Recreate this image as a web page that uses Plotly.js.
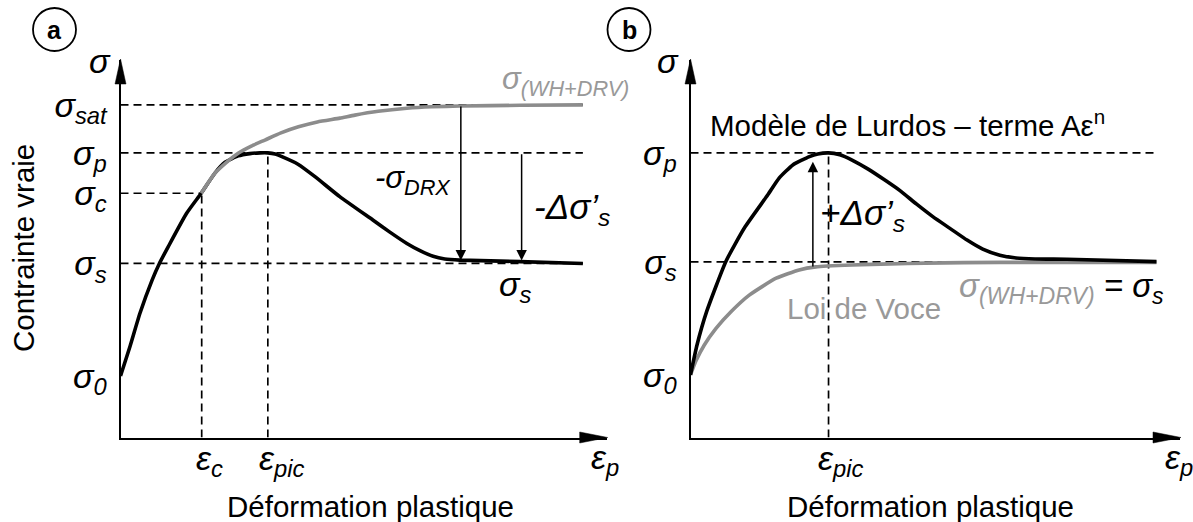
<!DOCTYPE html>
<html><head><meta charset="utf-8">
<script src="https://cdn.plot.ly/plotly-3.0.1.min.js"></script>
<style>html,body{margin:0;padding:0;background:#fff}#chart{width:1193px;height:522px}</style>
</head><body><div id="chart"></div>
<script>
// ---------- Panel a data (arbitrary units, axes 0..100) ----------
const levelNamesA = ['σ<sub>0</sub>', 'σ<sub>s</sub>', 'σ<sub>c</sub>', 'σ<sub>p</sub>', 'σ<sub>sat</sub>'];
const levelValsA  = [16.3, 46.1, 64.7, 75.4, 88.1];
const strainNamesA = ['ε<sub>c</sub>', 'ε<sub>pic</sub>'];
const strainValsA  = [16.7, 30.3];
const blackAx = [0, 1.95, 4.0, 6.5, 8.0, 9.8, 13.6, 16.6, 19.4, 21.5, 24.2, 26.6, 28.7, 30.3, 31.8, 33.2, 36.5, 40.0, 45.1, 51.9, 55.4, 58.9, 61.6, 64.3, 66.7, 69.8, 82.2, 95.1];
const blackAy = [16.3, 24.1, 32.9, 41.7, 46.1, 50.5, 59.4, 64.7, 70.0, 72.9, 74.6, 75.2, 75.4, 75.4, 75.1, 74.4, 72.4, 69.1, 63.8, 57.6, 54.4, 51.4, 49.5, 48.0, 47.3, 47.0, 46.6, 46.1];
const greyAx = [16.6, 19.4, 21.8, 24.2, 26.9, 29.7, 33.0, 36.6, 40.5, 45.1, 48.2, 53.0, 58.9, 64.0, 69.8, 82.2, 95.1];
const greyAy = [64.7, 70.0, 72.9, 75.3, 77.2, 78.8, 80.7, 82.3, 83.6, 84.6, 85.4, 86.4, 87.2, 87.6, 87.8, 88.0, 88.1];

// ---------- Panel b data ----------
const levelNamesB = ['σ<sub>0</sub>', 'σ<sub>s</sub>', 'σ<sub>p</sub>'];
const levelValsB  = [16.6, 46.5, 75.4];
const strainNamesB = ['ε<sub>pic</sub>'];
const strainValsB  = [28.2];
const blackBx = [0, 1.33, 3.31, 7.25, 11.0, 15.8, 18.1, 20.9, 24.3, 26.0, 28.2, 30.5, 33.0, 36.3, 39.7, 42.8, 46.2, 49.5, 53.0, 56.5, 59.7, 63.2, 66.2, 70.4, 76.9, 95.2];
const blackBy = [16.6, 24.5, 33.4, 46.7, 55.5, 64.3, 68.7, 72.2, 74.4, 75.1, 75.4, 74.9, 73.5, 71.1, 68.2, 65.4, 61.8, 58.5, 55.4, 52.3, 49.9, 48.3, 47.6, 47.3, 47.2, 46.6];
const greyBx = [0, 1.12, 2.82, 5.21, 8.27, 12.0, 17.5, 22.2, 25.6, 33.0, 40.8, 47.9, 63.2, 95.2];
const greyBy = [16.6, 20.3, 24.5, 28.9, 33.3, 37.7, 42.2, 44.4, 45.2, 45.7, 46.0, 46.2, 46.4, 46.4];

const W = 1193, H = 522;
const F = 'Liberation Sans, Arial, sans-serif';
const GREY = '#8c8c8c', GREYTXT = '#999999';
const domXA = [120.5 / W, 606.7 / W], domXB = [690.5 / W, 1180 / W], domY = [1 - 437.5 / H, 1 - 60 / H];

function dashed(xs, ys, xa, ya) {
  return {x: xs, y: ys, xaxis: xa, yaxis: ya, mode: 'lines', hoverinfo: 'skip',
          line: {color: '#000', width: 1.7, dash: '8px,5px'}};
}
function curve(xs, ys, xa, ya, color) {
  return {x: xs, y: ys, xaxis: xa, yaxis: ya, mode: 'lines', hoverinfo: 'skip',
          line: {color: color, width: 3.6, shape: 'spline', smoothing: 0.5}};
}
const endA = blackAx[blackAx.length - 1], endB = blackBx[blackBx.length - 1];
const [s0A, ssA, scA, spA, ssatA] = levelValsA;
const [ecA, epicA] = strainValsA;
const [s0B, ssB, spB] = levelValsB;
const [epicB] = strainValsB;

const data = [
  dashed([0, endA], [ssatA, ssatA], 'x', 'y'),
  dashed([0, endA], [spA, spA], 'x', 'y'),
  dashed([0, ecA], [scA, scA], 'x', 'y'),
  dashed([0, endA], [ssA, ssA], 'x', 'y'),
  dashed([ecA, ecA], [0, scA], 'x', 'y'),
  dashed([epicA, epicA], [0, spA], 'x', 'y'),
  curve(blackAx, blackAy, 'x', 'y', '#000'),
  curve(greyAx, greyAy, 'x', 'y', GREY),
  dashed([0, endB], [spB, spB], 'x2', 'y2'),
  dashed([0, endB], [ssB, ssB], 'x2', 'y2'),
  dashed([epicB, epicB], [0, spB], 'x2', 'y2'),
  curve(greyBx, greyBy, 'x2', 'y2', GREY),
  curve(blackBx, blackBy, 'x2', 'y2', '#000')
];

const axBase = {range: [0, 100], showgrid: false, zeroline: false, showline: true, linecolor: '#000',
  linewidth: 2, ticks: '', fixedrange: true, automargin: false};
const yTickFont = {family: F, size: 34, style: 'italic', color: '#000'};

const it = (size, color) => ({family: F, size: size, style: 'italic', color: color || '#000'});
const up = (size, color) => ({family: F, size: size, color: color || '#000'});
function ann(o) {
  return Object.assign({showarrow: false, font: it(34)}, o);
}

const annotations = [
  // panel a
  ann({xref: 'x', yref: 'y', x: 0, y: 100, text: 'σ', xanchor: 'right', yanchor: 'middle', xshift: -8, yshift: -1}),
  ann({xref: 'x', yref: 'y', x: ecA, y: 0, text: strainNamesA[0], xanchor: 'left', yanchor: 'top', xshift: -8, yshift: 1}),
  ann({xref: 'x', yref: 'y', x: epicA, y: 0, text: strainNamesA[1], xanchor: 'left', yanchor: 'top', xshift: -11, yshift: 1}),
  ann({xref: 'x', yref: 'y', x: 100, y: 0, text: 'ε<sub>p</sub>', xanchor: 'left', yanchor: 'top', xshift: -18, yshift: 2}),
  ann({xref: 'x', yref: 'y', x: 52.0, y: 68.2, text: '-σ<sub>DRX</sub>', xanchor: 'left', yanchor: 'middle', font: it(31), yshift: 0}),
  ann({xref: 'x', yref: 'y', x: 84.6, y: 60.8, text: '-Δσ’<sub>s</sub>', xanchor: 'left', yanchor: 'middle', font: it(35), yshift: -1}),
  ann({xref: 'x', yref: 'y', x: 77.4, y: 40.9, text: 'σ<sub>s</sub>', xanchor: 'left', yanchor: 'middle', font: it(34), yshift: -3}),
  ann({xref: 'x', yref: 'y', x: 78.0, y: 93.6, text: 'σ<sub>(WH+DRV)</sub>', xanchor: 'left', yanchor: 'middle', font: it(31, GREYTXT), yshift: 3}),
  // arrows panel a
  {xref: 'x', yref: 'y', axref: 'x', ayref: 'y', x: 70.0, y: ssA, ax: 70.0, ay: ssatA, text: '', showarrow: true,
   arrowhead: 2, arrowsize: 1.4, arrowwidth: 1.5, arrowcolor: '#000', standoff: 3},
  {xref: 'x', yref: 'y', axref: 'x', ayref: 'y', x: 82.5, y: ssA, ax: 82.5, ay: spA, text: '', showarrow: true,
   arrowhead: 2, arrowsize: 1.4, arrowwidth: 1.5, arrowcolor: '#000', standoff: 3},
  // panel b
  ann({xref: 'x2', yref: 'y2', x: 0, y: 100, text: 'σ', xanchor: 'right', yanchor: 'middle', xshift: -10, yshift: -1}),
  ann({xref: 'x2', yref: 'y2', x: epicB, y: 0, text: strainNamesB[0], xanchor: 'left', yanchor: 'top', xshift: -13, yshift: 1}),
  ann({xref: 'x2', yref: 'y2', x: 100, y: 0, text: 'ε<sub>p</sub>', xanchor: 'left', yanchor: 'top', xshift: -17, yshift: 2}),
  ann({xref: 'x2', yref: 'y2', x: 3.6, y: 83.3, text: 'Modèle de Lurdos – terme Aε<sup>n</sup>', xanchor: 'left', yanchor: 'middle', font: up(29.5)}),
  ann({xref: 'x2', yref: 'y2', x: 26.0, y: 59.5, text: '+Δσ’<sub>s</sub>', xanchor: 'left', yanchor: 'middle', font: it(35), yshift: -2}),
  ann({xref: 'x2', yref: 'y2', x: 19.4, y: 34.3, text: 'Loi de Voce', xanchor: 'left', yanchor: 'middle', font: up(29.5, GREYTXT)}),
  ann({xref: 'x2', yref: 'y2', x: 54.4, y: 39.9,
       text: '<span style="color:' + GREYTXT + '">σ<sub>(WH+DRV)</sub></span> = σ<sub>s</sub>',
       xanchor: 'left', yanchor: 'middle', font: it(33), yshift: -1}),
  {xref: 'x2', yref: 'y2', axref: 'x2', ayref: 'y2', x: 25.0, y: spB, ax: 25.0, ay: 44.9, text: '', showarrow: true,
   arrowhead: 2, arrowsize: 1.4, arrowwidth: 1.5, arrowcolor: '#000', standoff: 9},
  // titles
  {xref: 'paper', yref: 'paper', x: 23 / W, y: 1 - 248 / H, text: 'Contrainte vraie', textangle: -90,
   showarrow: false, font: up(29.5), xanchor: 'center', yanchor: 'middle'},
  {xref: 'paper', yref: 'paper', x: 370 / W, y: 1 - 506 / H, text: 'Déformation plastique',
   showarrow: false, font: up(29.5), xanchor: 'center', yanchor: 'middle'},
  {xref: 'paper', yref: 'paper', x: 930 / W, y: 1 - 506 / H, text: 'Déformation plastique',
   showarrow: false, font: up(29.5), xanchor: 'center', yanchor: 'middle'},
  {xref: 'paper', yref: 'paper', x: 54.5 / W, y: 1 - 29.5 / H, text: '<b>a</b>',
   showarrow: false, font: up(25), xanchor: 'center', yanchor: 'middle'},
  {xref: 'paper', yref: 'paper', x: 629 / W, y: 1 - 29.5 / H, text: '<b>b</b>',
   showarrow: false, font: up(25), xanchor: 'center', yanchor: 'middle'}
];

// axis arrowheads (paper-referenced so they are not clipped by the subplot)
function arrowX(dx) {
  return {type: 'path', xref: 'paper', yref: 'paper', xsizemode: 'pixel', ysizemode: 'pixel',
          xanchor: dx[1], yanchor: domY[0],
          path: 'M1,0 L-27,5.5 L-27,-5.5 Z', fillcolor: '#000', line: {color: '#000', width: 0.5}};
}
function arrowY(dx) {
  return {type: 'path', xref: 'paper', yref: 'paper', xsizemode: 'pixel', ysizemode: 'pixel',
          xanchor: dx[0], yanchor: domY[1],
          path: 'M0,1 L5.5,-24 L-5.5,-24 Z', fillcolor: '#000', line: {color: '#000', width: 0.5}};
}
const shapes = [
  arrowX(domXA), arrowY(domXA), arrowX(domXB), arrowY(domXB),
  {type: 'circle', xref: 'paper', yref: 'paper', x0: 33 / W, x1: 76 / W, y0: 1 - 51 / H, y1: 1 - 8 / H, line: {color: '#000', width: 1.8}},
  {type: 'circle', xref: 'paper', yref: 'paper', x0: 607.5 / W, x1: 650.5 / W, y0: 1 - 51 / H, y1: 1 - 8 / H, line: {color: '#000', width: 1.8}}
];

const layout = {
  width: W, height: H, margin: {l: 0, r: 0, t: 0, b: 0}, showlegend: false,
  paper_bgcolor: '#fff', plot_bgcolor: 'rgba(0,0,0,0)', font: {family: F},
  xaxis: Object.assign({}, axBase, {domain: domXA, anchor: 'y', showticklabels: false}),
  yaxis: Object.assign({}, axBase, {domain: domY, anchor: 'x',
    tickvals: levelValsA, ticktext: levelNamesA, tickfont: yTickFont, ticklabelstandoff: 5}),
  xaxis2: Object.assign({}, axBase, {domain: domXB, anchor: 'y2', showticklabels: false}),
  yaxis2: Object.assign({}, axBase, {domain: domY, anchor: 'x2',
    tickvals: levelValsB, ticktext: levelNamesB, tickfont: yTickFont, ticklabelstandoff: 5}),
  annotations: annotations, shapes: shapes
};

Plotly.newPlot('chart', data, layout, {displayModeBar: false, staticPlot: true});
</script></body></html>
